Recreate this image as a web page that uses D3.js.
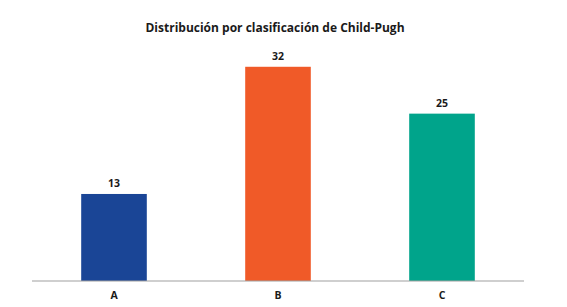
<!DOCTYPE html>
<html><head><meta charset="utf-8">
<script src="https://cdn.jsdelivr.net/npm/d3@7"></script>
<style>body{margin:0;background:#fff;}svg{display:block;}</style>
</head><body>
<script>
const categories = ["A", "B", "C"];
const values = [13, 32, 25];
const colors = ["#1a4596", "#f05a28", "#00a48b"];
const title = "Distribución por clasificación de Child-Pugh";

const W = 567, H = 307;
const svg = d3.select("body").append("svg").attr("width", W).attr("height", H);
const font = "'Open Sans', 'Noto Sans', sans-serif";

const x = d3.scaleBand().domain(categories).range([32, 524]).paddingInner(0.6).paddingOuter(0.3);
const y = d3.scaleLinear().domain([0, 36]).range([281, 40]);

svg.append("text").attr("x", 275).attr("y", 32).attr("text-anchor", "middle")
  .attr("font-family", font).attr("font-weight", "bold").attr("font-size", 12)
  .attr("fill", "#1a1a1a").text(title);

svg.selectAll("rect.bar").data(values).join("rect").attr("class", "bar")
  .attr("x", (d, i) => x(categories[i])).attr("width", x.bandwidth())
  .attr("y", d => y(d)).attr("height", d => y(0) - y(d))
  .attr("fill", (d, i) => colors[i]);

svg.selectAll("text.val").data(values).join("text").attr("class", "val")
  .attr("x", (d, i) => x(categories[i]) + x.bandwidth() / 2).attr("y", d => y(d) - 7)
  .attr("text-anchor", "middle").attr("font-family", font).attr("font-weight", "bold")
  .attr("font-size", 10.5).attr("fill", "#1a1a1a").text(d => d);

const axis = svg.append("g").attr("transform", `translate(0,${y(0)})`)
  .call(d3.axisBottom(x).tickSize(0).tickPadding(11));
axis.select(".domain").attr("stroke", "#a0a0a0").attr("stroke-width", 1.2).attr("d", "M32,0H524");
axis.selectAll("text").attr("font-family", font).attr("font-weight", "bold")
  .attr("font-size", 10.5).attr("fill", "#1a1a1a");
</script>
</body></html>
